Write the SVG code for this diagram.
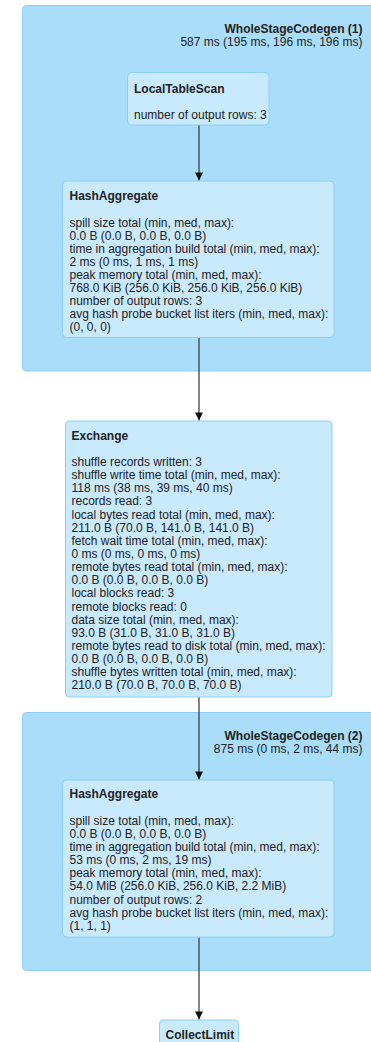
<svg xmlns="http://www.w3.org/2000/svg" width="371" height="1042" viewBox="0 0 371 1042">
  <style>
    .cluster { fill: #A9DDF9; stroke: #8CCFF5; stroke-width: 1; }
    .node { fill: #C9E9FC; stroke: #8CCFF5; stroke-width: 1; }
    text { font-family: "Liberation Sans", Arial, sans-serif; font-size: 12px; fill: #222; }
    .title { font-weight: bold; }
    .clabel { text-anchor: end; }
    .edge { stroke: #333; stroke-width: 1.2; fill: none; marker-end: url(#arrow); }
  </style>
  <defs>
    <marker id="arrow" markerUnits="userSpaceOnUse" markerWidth="10" markerHeight="10" viewBox="0 0 10 10" refX="9" refY="5" orient="auto">
      <path d="M1,1 L9,5 L1,9 z" fill="#111"/>
    </marker>
  </defs>
  <rect width="371" height="1042" fill="#ffffff"/>

  <g id="cluster-wsc1">
    <rect class="cluster" x="22.5" y="5.5" width="360" height="365.5" rx="4"/>
    <text class="clabel title" x="362.5" y="33">WholeStageCodegen (1)</text>
    <text class="clabel" x="362.5" y="46.3">587 ms (195 ms, 196 ms, 196 ms)</text>
  </g>

  <g id="cluster-wsc2">
    <rect class="cluster" x="22.5" y="712.5" width="360" height="258" rx="4"/>
    <text class="clabel title" x="362.5" y="740">WholeStageCodegen (2)</text>
    <text class="clabel" x="362.5" y="753.3">875 ms (0 ms, 2 ms, 44 ms)</text>
  </g>

  <g id="connectors">
    <line class="edge" x1="199" y1="125" x2="199" y2="180.5"/>
    <line class="edge" x1="199" y1="338" x2="199" y2="420.5"/>
    <line class="edge" x1="199" y1="697" x2="199" y2="779.5"/>
    <line class="edge" x1="199" y1="937.5" x2="199" y2="1019.5"/>
  </g>

  <g id="node-localtablescan">
    <rect class="node" x="127.5" y="72.5" width="141.5" height="52.5" rx="4"/>
    <text class="title" x="134" y="92.5">LocalTableScan</text>
    <text x="134" y="118.5">number of output rows: 3</text>
  </g>

  <g id="node-hashaggregate1">
    <rect class="node" x="62.5" y="181" width="271.5" height="156.5" rx="4"/>
    <text class="title" x="69.5" y="200">HashAggregate</text>
    <text x="69.5" y="226.5">
      <tspan x="69.5" dy="0">spill size total (min, med, max):</tspan>
      <tspan x="69.5" dy="13.05">0.0 B (0.0 B, 0.0 B, 0.0 B)</tspan>
      <tspan x="69.5" dy="13.05">time in aggregation build total (min, med, max):</tspan>
      <tspan x="69.5" dy="13.05">2 ms (0 ms, 1 ms, 1 ms)</tspan>
      <tspan x="69.5" dy="13.05">peak memory total (min, med, max):</tspan>
      <tspan x="69.5" dy="13.05">768.0 KiB (256.0 KiB, 256.0 KiB, 256.0 KiB)</tspan>
      <tspan x="69.5" dy="13.05">number of output rows: 3</tspan>
      <tspan x="69.5" dy="13.05">avg hash probe bucket list iters (min, med, max):</tspan>
      <tspan x="69.5" dy="13.05">(0, 0, 0)</tspan>
    </text>
  </g>

  <g id="node-exchange">
    <rect class="node" x="65.5" y="421" width="266.5" height="276" rx="4"/>
    <text class="title" x="71.5" y="440">Exchange</text>
    <text x="71.5" y="466">
      <tspan x="71.5" dy="0">shuffle records written: 3</tspan>
      <tspan x="71.5" dy="13.14">shuffle write time total (min, med, max):</tspan>
      <tspan x="71.5" dy="13.14">118 ms (38 ms, 39 ms, 40 ms)</tspan>
      <tspan x="71.5" dy="13.14">records read: 3</tspan>
      <tspan x="71.5" dy="13.14">local bytes read total (min, med, max):</tspan>
      <tspan x="71.5" dy="13.14">211.0 B (70.0 B, 141.0 B, 141.0 B)</tspan>
      <tspan x="71.5" dy="13.14">fetch wait time total (min, med, max):</tspan>
      <tspan x="71.5" dy="13.14">0 ms (0 ms, 0 ms, 0 ms)</tspan>
      <tspan x="71.5" dy="13.14">remote bytes read total (min, med, max):</tspan>
      <tspan x="71.5" dy="13.14">0.0 B (0.0 B, 0.0 B, 0.0 B)</tspan>
      <tspan x="71.5" dy="13.14">local blocks read: 3</tspan>
      <tspan x="71.5" dy="13.14">remote blocks read: 0</tspan>
      <tspan x="71.5" dy="13.14">data size total (min, med, max):</tspan>
      <tspan x="71.5" dy="13.14">93.0 B (31.0 B, 31.0 B, 31.0 B)</tspan>
      <tspan x="71.5" dy="13.14">remote bytes read to disk total (min, med, max):</tspan>
      <tspan x="71.5" dy="13.14">0.0 B (0.0 B, 0.0 B, 0.0 B)</tspan>
      <tspan x="71.5" dy="13.14">shuffle bytes written total (min, med, max):</tspan>
      <tspan x="71.5" dy="13.14">210.0 B (70.0 B, 70.0 B, 70.0 B)</tspan>
    </text>
  </g>

  <g id="node-hashaggregate2">
    <rect class="node" x="62.5" y="780" width="271.5" height="157" rx="4"/>
    <text class="title" x="69.5" y="798">HashAggregate</text>
    <text x="69.5" y="825">
      <tspan x="69.5" dy="0">spill size total (min, med, max):</tspan>
      <tspan x="69.5" dy="13.09">0.0 B (0.0 B, 0.0 B, 0.0 B)</tspan>
      <tspan x="69.5" dy="13.09">time in aggregation build total (min, med, max):</tspan>
      <tspan x="69.5" dy="13.09">53 ms (0 ms, 2 ms, 19 ms)</tspan>
      <tspan x="69.5" dy="13.09">peak memory total (min, med, max):</tspan>
      <tspan x="69.5" dy="13.09">54.0 MiB (256.0 KiB, 256.0 KiB, 2.2 MiB)</tspan>
      <tspan x="69.5" dy="13.09">number of output rows: 2</tspan>
      <tspan x="69.5" dy="13.09">avg hash probe bucket list iters (min, med, max):</tspan>
      <tspan x="69.5" dy="13.09">(1, 1, 1)</tspan>
    </text>
  </g>

  <g id="node-collectlimit">
    <rect class="node" x="159.5" y="1020" width="79" height="40" rx="4"/>
    <text class="title" x="165.5" y="1038.5">CollectLimit</text>
  </g>
</svg>
